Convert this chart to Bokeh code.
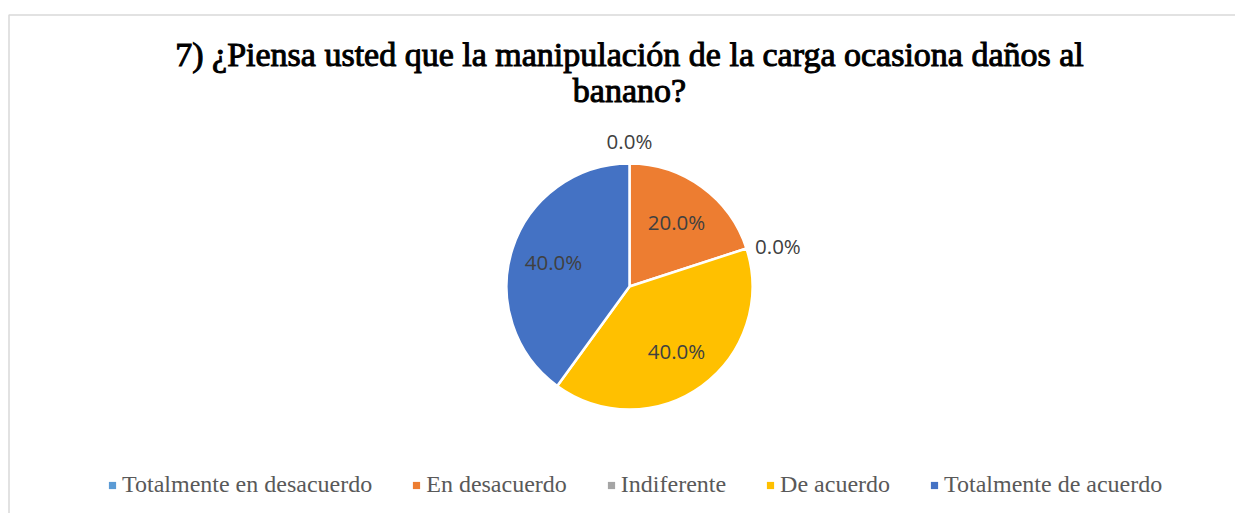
import math
from bokeh.plotting import figure
from bokeh.models import Range1d, Legend, LegendItem, ColumnDataSource, CDSView, BooleanFilter
from bokeh.core.properties import value
from bokeh.embed import file_html
from bokeh.resources import INLINE

# ---- data ----
categories = ["Totalmente en desacuerdo", "En desacuerdo", "Indiferente", "De acuerdo", "Totalmente de acuerdo"]
percentages = [0.0, 20.0, 0.0, 40.0, 40.0]
colors = ["#5B9BD5", "#ED7D31", "#A5A5A5", "#FFC000", "#4472C4"]
title_lines = ["7) ¿Piensa usted que la manipulación de la carga ocasiona daños al", "banano?"]

# ---- layout ----
W, H = 1235, 513
CX, CY, R = 629, 227, 123

p = figure(width=W, height=H, output_backend="svg", toolbar_location=None,
           x_range=Range1d(0, W), y_range=Range1d(0, H), min_border=0)
p.axis.visible = False
p.grid.visible = False
p.outline_line_color = None
p.background_fill_color = "white"
p.border_fill_color = "white"

# chart border (left + top)
p.line(x=[8.5, 8.5, W], y=[0, 498.5, 498.5], line_color="#D9D9D9", line_width=1.5)

total = sum(percentages)
starts, ends, mids = [], [], []
acc = 0.0
for v in percentages:
    a0 = math.pi / 2 - acc / total * 2 * math.pi
    acc += v
    a1 = math.pi / 2 - acc / total * 2 * math.pi
    starts.append(a0)
    ends.append(a1)
    mids.append((a0 + a1) / 2)

src = ColumnDataSource(dict(cat=categories, val=percentages, color=colors,
                            start=starts, end=ends,
                            cx=[CX] * len(categories), cy=[CY] * len(categories)))
view = CDSView(filter=BooleanFilter([v > 0 for v in percentages]))
p.wedge(x="cx", y="cy", radius=R, start_angle="start", end_angle="end",
        direction="clock", fill_color="color", line_color="white",
        line_width=2.5, source=src, view=view)

# legend-only renderer (zero-size markers, legend draws squares)
lr = p.scatter(x="cx", y="cy", marker="square", size=0, fill_color="color",
               line_alpha=0, source=src)

# data labels
lx, ly, lt, la, lb = [], [], [], [], []
for v, m in zip(percentages, mids):
    txt = f"{v:.1f}%"
    c, s = math.cos(m), math.sin(m)
    if v > 0:
        r = R * 0.65
        la.append("center"); lb.append("middle")
    else:
        r = R + 9
        la.append("center" if abs(c) < 0.3 else ("left" if c > 0 else "right"))
        lb.append("bottom" if s > 0.7 else ("top" if s < -0.7 else "middle"))
    lx.append(CX + r * c); ly.append(CY + r * s)
    lt.append(txt)
lsrc = ColumnDataSource(dict(x=lx, y=ly, t=lt, a=la, b=lb))
p.text(x="x", y="y", text="t", text_align="a", text_baseline="b", source=lsrc,
       text_font=value("Open Sans"), text_font_size="20.5px", text_color="#404040")

# title (bold look via outline, as the bold serif face is not available)
tsrc = ColumnDataSource(dict(x=[CX, CX], y=[459, 423], t=title_lines))
p.text(x="x", y="y", text="t", source=tsrc, text_align="center", text_baseline="alphabetic",
       text_font=value("Liberation Serif"), text_font_style="normal",
       text_outline_color="black",
       text_font_size="34px", text_color="black")

# legend
items = [LegendItem(label=c, renderers=[lr], index=i) for i, c in enumerate(categories)]
leg = Legend(items=items, orientation="horizontal", location=(103, 15),
             label_text_font="Liberation Serif", label_text_font_size="24px",
             label_text_color="#595959", glyph_width=18, glyph_height=18,
             label_standoff=1, spacing=35, padding=0, margin=0,
             border_line_color=None, background_fill_alpha=0)
p.add_layout(leg)

open("out.html", "w").write(file_html(p, INLINE))
